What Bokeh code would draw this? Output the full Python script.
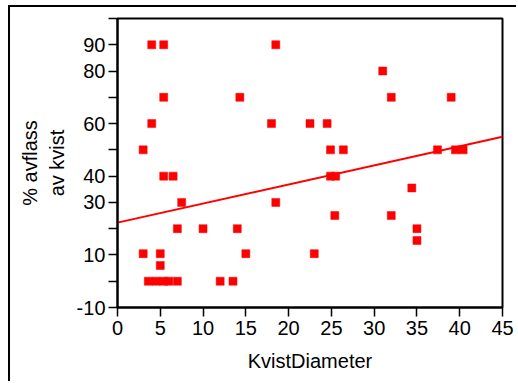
from bokeh.plotting import figure
from bokeh.models import FixedTicker, Range1d
from bokeh.embed import file_html
from bokeh.resources import INLINE

# Data
diameter = [4, 5.4, 18.5,
            31,
            5.4, 14.3, 32, 39,
            4, 18, 22.5, 24.5,
            3, 24.9, 26.4, 37.4, 39.5, 40.4,
            5.4, 6.5, 24.9, 25.5,
            34.4,
            7.5, 18.5,
            25.4, 32,
            7, 10, 14, 35,
            35,
            3, 5, 15, 23,
            5,
            3.6, 4.5, 5.4, 6, 7, 12, 13.5]
pct_loss = [90, 90, 90,
            80,
            70, 70, 70, 70,
            60, 60, 60, 60,
            50, 50, 50, 50, 50, 50,
            40, 40, 40, 40,
            35.5,
            30, 30,
            25, 25,
            20, 20, 20, 20,
            15.5,
            10.5, 10.5, 10.5, 10.5,
            6,
            0, 0, 0, 0, 0, 0, 0]
fit_x = [0, 45]
fit_y = [22.3, 55.0]

x_ticks = [0, 5, 10, 15, 20, 25, 30, 35, 40, 45]
y_ticks = [-10, 0, 10, 20, 30, 40, 50, 60, 70, 80, 90, 100]
y_tick_labels = {-10: "-10", 0: "", 10: "10", 20: "", 30: "30", 40: "40",
                 50: "", 60: "60", 70: "", 80: "80", 90: "90", 100: ""}

FONT = "Liberation Sans"

p = figure(width=508, height=376, x_range=Range1d(0, 45), y_range=Range1d(-10, 100),
           output_backend="svg", toolbar_location=None,
           min_border_left=107, min_border_right=16, min_border_top=11, min_border_bottom=76,
           margin=(5, 0, 0, 8),
           styles={"border-left": "2px solid black", "border-top": "2px solid black"})

p.grid.visible = False
p.background_fill_color = "white"
p.border_fill_color = "white"
p.outline_line_color = "black"
p.outline_line_width = 2

p.line(fit_x, fit_y, line_color="#ff0000", line_width=2)
p.scatter(diameter, pct_loss, marker="square", size=8, fill_color="#ff0000",
          line_color="#ff0000", line_width=0.5)

for ax in (p.xaxis[0], p.yaxis[0]):
    ax.axis_line_color = "black"
    ax.axis_line_width = 2
    ax.major_tick_line_color = "black"
    ax.major_tick_line_width = 1.5
    ax.major_tick_out = 9
    ax.major_tick_in = 0
    ax.minor_tick_line_color = None
    ax.major_label_text_font = FONT
    ax.major_label_text_font_size = "20px"
    ax.major_label_text_color = "black"
    ax.axis_label_text_font = FONT
    ax.axis_label_text_font_size = "20px"
    ax.axis_label_text_font_style = "normal"
    ax.axis_label_text_color = "black"

p.xaxis.ticker = FixedTicker(ticks=x_ticks)
p.yaxis.ticker = FixedTicker(ticks=y_ticks)
p.yaxis.major_label_overrides = y_tick_labels
p.xaxis.major_label_standoff = 4
p.yaxis.major_label_standoff = 3
p.xaxis.axis_label = "KvistDiameter"
p.xaxis.axis_label_standoff = 12
p.yaxis.axis_label = "% avflass\nav kvist"
p.yaxis.axis_label_standoff = 6

open("out.html", "w").write(file_html(p, INLINE))
